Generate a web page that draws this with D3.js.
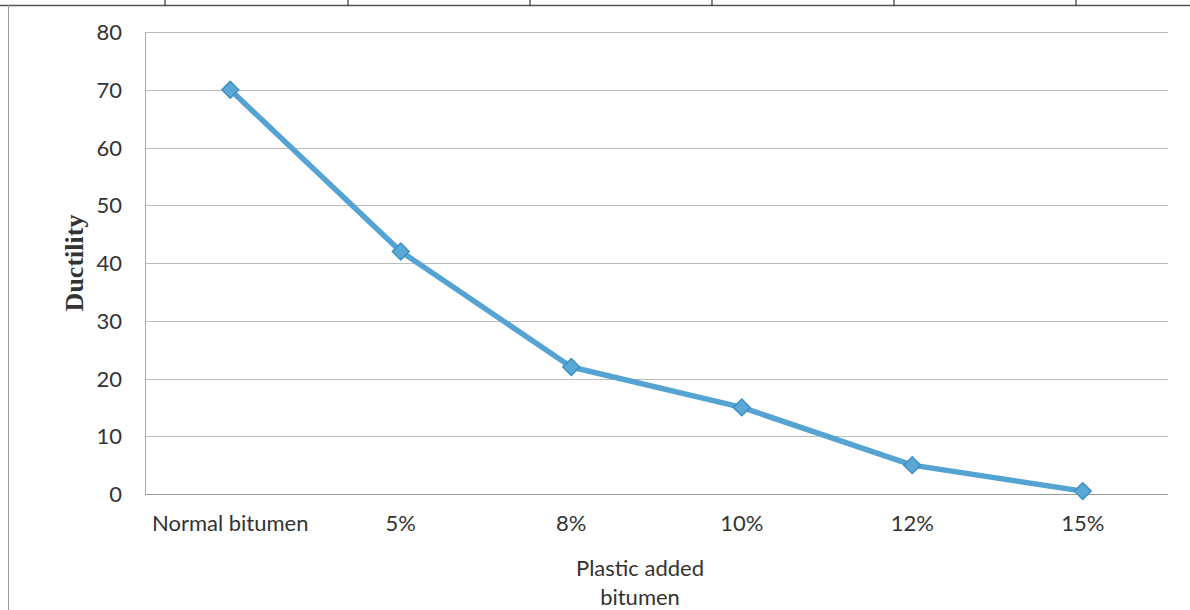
<!DOCTYPE html>
<html><head><meta charset="utf-8">
<script src="https://cdn.jsdelivr.net/npm/d3@7"></script>
<style>body{margin:0;background:#fff}svg{display:block}</style>
</head><body>
<svg id="c" width="1190" height="610"></svg>
<script>
const categories = ["Normal bitumen","5%","8%","10%","12%","15%"];
const ductility = [70, 42, 22, 15, 5, 0.5];
const yTicks = [0,10,20,30,40,50,60,70,80];
const tableTicks = [165, 348, 530, 712, 894, 1076];
const yTitle = "Ductility";
const xTitle = ["Plastic added","bitumen"];

const svg = d3.select("#c");
const W = 1190, H = 610;
const m = {left:145, right:1168, top:32, bottom:494};
const sans = "Lato, 'Open Sans', sans-serif";

// page frame (table lines)
svg.append("line").attr("x1",0).attr("x2",W).attr("y1",5.5).attr("y2",5.5).attr("stroke","#555").attr("stroke-width",1.5);
svg.append("line").attr("x1",8.5).attr("x2",8.5).attr("y1",5).attr("y2",H).attr("stroke","#999").attr("stroke-width",1);
tableTicks.forEach(x=>svg.append("line").attr("x1",x).attr("x2",x).attr("y1",0).attr("y2",6).attr("stroke","#333").attr("stroke-width",1.2));

const x = d3.scaleBand().domain(categories).range([m.left,m.right]);
const y = d3.scaleLinear().domain([0,80]).range([m.bottom,m.top]);

// gridlines
svg.append("g").selectAll("line").data(yTicks).join("line")
  .attr("x1",m.left).attr("x2",m.right)
  .attr("y1",d=>Math.round(y(d))+0.5).attr("y2",d=>Math.round(y(d))+0.5)
  .attr("stroke",d=>d===0?"#999":"#bbb").attr("stroke-width",1);
svg.append("line").attr("x1",m.left+0.5).attr("x2",m.left+0.5).attr("y1",m.top).attr("y2",m.bottom).attr("stroke","#aaa");

// y axis
const yAxis = d3.axisLeft(y).tickValues(yTicks).tickSize(0).tickPadding(0);
const gy = svg.append("g").attr("transform",`translate(${m.left-23},0)`).call(yAxis);
gy.select(".domain").remove();
gy.selectAll("text").attr("font-family",sans).attr("font-size",22).attr("fill","#333").attr("dy","0.35em");

// x axis
const xAxis = d3.axisBottom(x).tickSize(0).tickPadding(0);
const gx = svg.append("g").attr("transform",`translate(0,${m.bottom+19})`).call(xAxis);
gx.select(".domain").remove();
gx.selectAll("text").attr("font-family",sans).attr("font-size",22).attr("fill","#333").attr("dy","0.8em");

// titles
svg.append("text").attr("transform","translate(83,263) rotate(-90)").attr("text-anchor","middle")
  .attr("font-family","'Liberation Serif', 'DejaVu Serif', serif").attr("font-weight","bold").attr("font-size",26).attr("fill","#333").text(yTitle);
svg.append("text").attr("x",640).attr("y",576).attr("text-anchor","middle")
  .attr("font-family",sans).attr("font-size",22).attr("fill","#333")
  .selectAll("tspan").data(xTitle).join("tspan").attr("x",640).attr("dy",(d,i)=>i?29:0).text(d=>d);

// line
const cx = d=>x(d)+x.bandwidth()/2;
const line = d3.line().x((d,i)=>cx(categories[i])).y(d=>y(d));
svg.append("path").datum(ductility).attr("d",line).attr("fill","none")
  .attr("stroke","#55a3d3").attr("stroke-width",5.5).attr("stroke-linejoin","round");
svg.append("g").selectAll("path").data(ductility).join("path")
  .attr("d",d3.symbol().type(d3.symbolDiamond2).size(180))
  .attr("transform",(d,i)=>`translate(${cx(categories[i])},${y(d)})`)
  .attr("fill","#5aa8d6").attr("stroke","#3f8fc2").attr("stroke-width",1.5);
</script>
</body></html>
